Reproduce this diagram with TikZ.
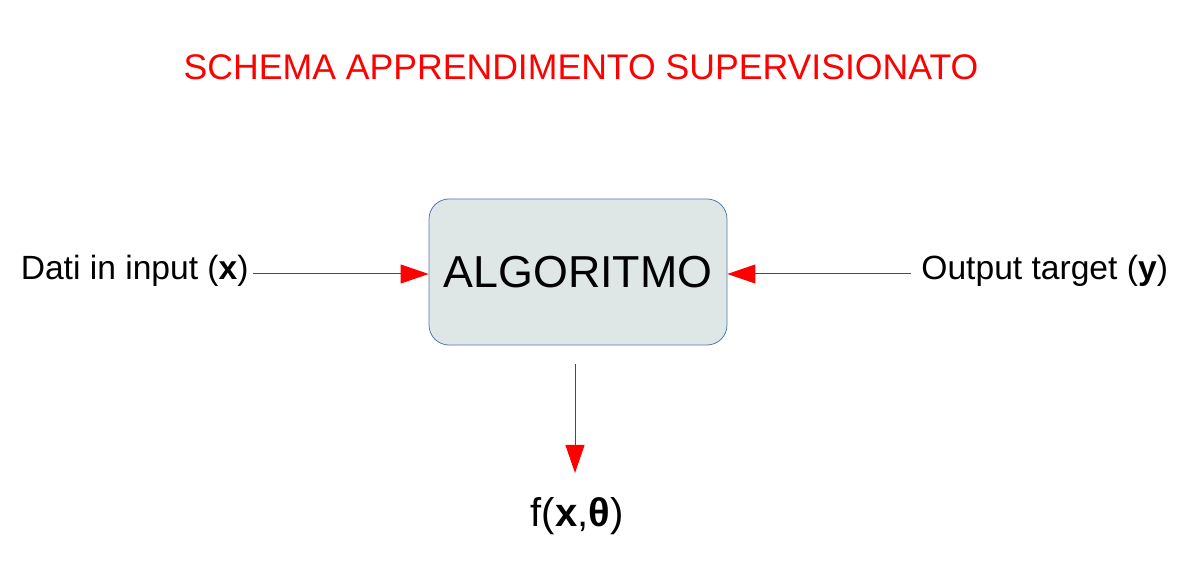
\documentclass[tikz,border=0pt]{standalone}
\usepackage{fontspec}
\setmainfont{Liberation Sans}
\usetikzlibrary{arrows.meta}
\definecolor{boxfill}{RGB}{223,230,230}
\definecolor{boxline}{RGB}{84,120,178}
\begin{document}
\begin{tikzpicture}[x=0.5pt,y=-0.5pt,>={Triangle[length=14pt,width=9.5pt]},
  flow/.style={->,red,line width=0.5pt},
  lbl/.style={inner sep=0pt,font=\fontsize{16.8}{18}\selectfont}]
\useasboundingbox (0,0) rectangle (1186,566);
\node[red,inner sep=0pt,font=\fontsize{17.8}{19}\selectfont] (title) at (581,67) {SCHEMA APPRENDIMENTO SUPERVISIONATO};
\node[draw=boxline,fill=boxfill,rounded corners=10pt,minimum width=149pt,minimum height=73pt,
  font=\fontsize{22.4}{24}\selectfont] (algo) at (578,272) {ALGORITMO};
\node[lbl,anchor=east] (inp) at (249,271) {Dati in input (\textbf{x})};
\node[lbl,anchor=west] (tgt) at (921,271) {Output target (\textbf{y})};
\node[inner sep=0pt,font=\fontsize{20}{22}\selectfont] (res) at (577,516) {f(\textbf{x},\textbf{θ})};
\draw[flow] ([xshift=2pt,yshift=-1.5pt]inp.east) -- ([yshift=-1pt]algo.west);
\draw[flow] ([xshift=-5pt,yshift=-1.5pt]tgt.west) -- ([yshift=-1pt]algo.east);
\draw[flow,shorten <=9.5pt,shorten >=12pt] ([xshift=-1.5pt]algo.south) -- ([xshift=-1pt]res.north);
\end{tikzpicture}
\end{document}
